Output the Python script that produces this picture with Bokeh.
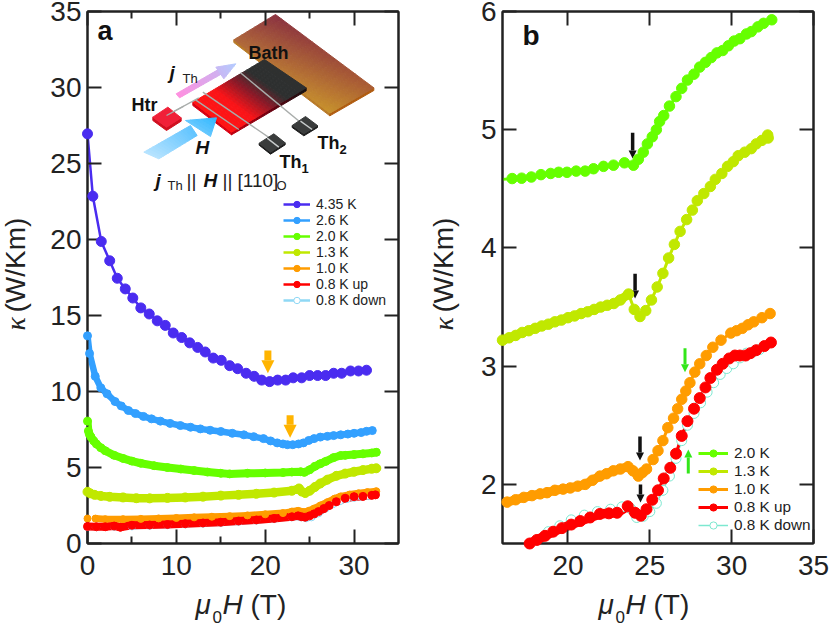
from bokeh.plotting import figure
from bokeh.layouts import row
from bokeh.models import (Range1d, LinearAxis, FixedTicker, Legend, LegendItem, Arrow, NormalHead)
from bokeh.core.properties import value
from bokeh.embed import file_html
from bokeh.resources import INLINE
import math

nan = float("nan")

# ---------- panel a data ----------
a_x_435 = [0,.6,1.55,2.5,3.35,4.25,5.1,6.0,6.95,7.85,8.75,9.65,10.6,11.5,12.4,13.25,14.15,15.05,16.0,16.9,17.85,18.75,19.6,20.5,21.4,22.3,23.15,24.1,25,25.9,26.8,27.7,28.6,29.6,30.5,31.4]
a_y_435 = [26.95,22.85,19.87,18.6,17.45,16.75,16.15,15.5,15.1,14.65,14.35,13.85,13.55,13.2,12.9,12.6,12.2,12.05,11.7,11.5,11.2,11.0,10.75,10.65,10.75,10.75,10.9,10.9,11.05,11.05,11.05,11.2,11.2,11.35,11.35,11.4]
a_x_26 = [0,.23,.87,1.5,2.2,3.1,3.8,4.6,5.4,6.3,7.2,8.2,9.3,10.45,11.6,12.7,13.8,15,16.3,17.6,18.7,19.8,20.6,21.35,22,22.5,23.1,23.75,24.3,24.9,25.5,26.2,27,27.7,28.5,29.3,30,30.8,31.4,32.05]
a_y_26 = [13.66,12.5,11.0,10.24,9.85,9.34,9.05,8.75,8.55,8.36,8.2,8.05,7.9,7.76,7.65,7.54,7.45,7.37,7.25,7.15,7.03,6.9,6.75,6.62,6.55,6.5,6.5,6.55,6.62,6.78,6.9,7.0,7.05,7.1,7.15,7.2,7.25,7.3,7.38,7.43]
a_x_20 = [0,.1,.2,.4,.7,1,1.5,2,3,4,5,6,7.5,9,10.5,12,13.5,15,16,18,20,22,23,24,24.4,25,25.6,26.2,26.8,27.7,28.5,29,30,31,32,32.5]
a_y_20 = [8.05,7.4,7.2,7.0,6.75,6.55,6.3,6.1,5.8,5.6,5.42,5.28,5.12,5.0,4.9,4.8,4.7,4.62,4.58,4.62,4.64,4.67,4.7,4.72,4.68,4.85,5.08,5.25,5.4,5.65,5.79,5.8,5.85,5.9,5.96,6.0]
a_x_13 = [0,.3,.8,1.5,2.5,4,5.5,7,9,11,13,15,17,19,21,23,23.8,24.1,24.5,25,25.6,26.2,27,28,29,30,31,32,32.5]
a_y_13 = [3.4,3.3,3.2,3.13,3.07,3.03,2.98,2.97,3.0,3.03,3.08,3.15,3.2,3.27,3.35,3.47,3.62,3.42,3.32,3.47,3.72,3.95,4.2,4.45,4.6,4.72,4.83,4.92,4.95]
a_x_10 = [0,nan,.9,2,4,6,8,10,12,14,16,18,20,22,23,23.7,24,24.4,24.9,25.5,26.2,27,27.8,28.5,29.5,30.5,31.5,32.5]
a_y_10 = [1.64,nan,1.64,1.6,1.6,1.62,1.65,1.68,1.72,1.76,1.8,1.85,1.92,2.0,2.1,2.15,2.1,2.07,2.15,2.3,2.5,2.72,2.95,3.1,3.22,3.3,3.38,3.44]
a_x_08u = [0,1,2,3,3.7,5,7,9,11,13,15,17,19,21,23,23.7,24.1,24.5,25,25.5,26,26.6,27.2,28,29,30,31,32,32.4]
a_y_08u = [1.12,1.1,1.1,1.15,1.07,1.2,1.22,1.25,1.3,1.35,1.4,1.48,1.55,1.65,1.76,1.82,1.76,1.73,1.82,1.95,2.1,2.3,2.5,2.75,2.98,3.08,3.1,3.17,3.2]
a_x_08d = [0,1,3,5,7,9,11,13,15,17,19,21,23,24,24.6,25.2,26,26.8,27.6,28.4,29.2,30,30.8,31.6]
a_y_08d = [1.08,1.07,1.1,1.12,1.16,1.2,1.25,1.3,1.35,1.42,1.5,1.6,1.72,1.72,1.66,1.72,1.98,2.3,2.58,2.78,2.92,3.0,3.08,3.12]

# ---------- panel b data ----------
b_x_20 = [16.59,17.17,17.76,18.35,18.94,19.43,19.94,20.5,21.05,21.56,22.17,22.78,23.45,24.0,24.3,24.6,24.85,25.15,25.4,25.6,25.85,26.2,26.6,26.95,27.3,27.7,28.05,28.4,28.75,29.1,29.45,29.8,30.15,30.5,30.9,31.2,31.6,31.95,32.45]
b_y_20 = [4.587,4.59,4.6,4.62,4.63,4.64,4.64,4.65,4.65,4.67,4.69,4.70,4.72,4.70,4.75,4.81,4.88,4.94,5.0,5.07,5.12,5.2,5.28,5.35,5.42,5.47,5.53,5.57,5.61,5.65,5.67,5.71,5.75,5.77,5.81,5.83,5.87,5.9,5.93]
b_x_13 = [16.0,16.4,16.8,17.2,17.6,18.0,18.4,18.8,19.2,19.6,20.0,20.4,20.8,21.2,21.6,22.0,22.4,22.8,23.2,23.7,24.05,24.4,24.75,25.1,25.45,25.8,26.15,26.5,26.85,27.25,27.6,27.9,28.3,28.7,29.0,29.4,29.75,30.1,30.4,30.8,31.2,31.5,31.85,32.2,32.23]
b_y_13 = [3.22,3.24,3.26,3.285,3.3,3.32,3.34,3.355,3.375,3.39,3.41,3.425,3.445,3.46,3.48,3.5,3.515,3.53,3.56,3.61,3.48,3.42,3.47,3.56,3.67,3.785,3.915,4.03,4.14,4.24,4.32,4.4,4.46,4.52,4.58,4.63,4.69,4.73,4.78,4.81,4.84,4.88,4.91,4.955,4.93]
b_x_10 = [16.28,16.8,17.3,17.8,18.3,18.72,19.2,19.7,20.14,20.6,21.05,21.5,21.95,22.35,22.77,23.2,23.67,23.97,24.3,24.55,24.8,25.2,25.5,25.8,26.1,26.45,26.7,26.95,27.2,27.45,27.75,28.05,28.45,28.85,29.35,29.95,30.3,30.65,31.0,31.35,31.85,32.35]
b_y_10 = [1.85,1.87,1.89,1.905,1.92,1.93,1.95,1.96,1.97,1.985,2.0,2.035,2.07,2.09,2.115,2.13,2.15,2.115,2.07,2.1,2.13,2.21,2.285,2.37,2.48,2.56,2.64,2.72,2.79,2.86,2.95,3.02,3.09,3.16,3.22,3.28,3.3,3.32,3.35,3.375,3.41,3.445]
b_x_08u = [17.66,18.1,18.6,19.1,19.63,20.2,20.75,21.35,21.95,22.5,23.0,23.65,24.1,24.45,24.8,25.15,25.5,25.85,26.25,26.6,26.95,27.3,27.7,28.05,28.4,28.7,29.1,29.45,29.85,30.2,30.5,30.85,31.15,31.5,32.0,32.4]
b_y_08u = [1.5,1.53,1.565,1.6,1.63,1.66,1.69,1.72,1.75,1.755,1.76,1.815,1.76,1.735,1.79,1.87,1.95,2.05,2.14,2.26,2.41,2.535,2.64,2.73,2.82,2.9,2.97,3.02,3.065,3.09,3.09,3.09,3.11,3.135,3.17,3.2]
b_x_08d = [18.8,19.5,20.2,21,21.8,22.6,23.3,23.8,24.2,24.6,25.0,25.4,25.8,26.2,26.6,26.95,27.3,27.7,28.1,28.5,28.9,29.3,29.7,30.1,30.5,30.9,31.3,31.7]
b_y_08d = [1.6,1.65,1.7,1.74,1.77,1.79,1.81,1.8,1.72,1.73,1.77,1.84,1.95,2.07,2.22,2.37,2.5,2.6,2.69,2.78,2.86,2.93,2.98,3.02,3.07,3.11,3.12,3.14]

temps_a = ["4.35 K", "2.6 K", "2.0 K", "1.3 K", "1.0 K", "0.8 K up", "0.8 K down"]
temps_b = ["2.0 K", "1.3 K", "1.0 K", "0.8 K up", "0.8 K down"]
x_ticks_a = [0, 10, 20, 30]
x_minor_a = [5, 15, 25]
y_ticks_a = [0, 5, 10, 15, 20, 25, 30, 35]
x_ticks_b = [20, 25, 30, 35]
y_ticks_b = [2, 3, 4, 5, 6]

C435, C26, C20, C13, C10, C08, C08D = "#4a2cf0", "#33a0ff", "#66ff00", "#c0e800", "#ff9c00", "#ff0000", "#8fd8f5"
INK = "#222222"
SANS = "Liberation Sans"

CANVAS_H = 626
F_TOP, F_BOTTOM = 11, 543


def make_fig(width, left, right, xr, yr, xt, yt, xm):
    p = figure(width=width, height=CANVAS_H, output_backend="svg", toolbar_location=None,
               x_range=Range1d(*xr), y_range=Range1d(*yr), x_axis_type=None, y_axis_type=None,
               min_border_left=left, min_border_right=right, min_border_top=F_TOP,
               min_border_bottom=CANVAS_H - F_BOTTOM, outline_line_color=INK, outline_line_width=2,
               background_fill_color="white", border_fill_color=None)
    p.grid.visible = False
    for side, ticks, minor, vis in (("below", xt, xm, True), ("above", xt, xm, False),
                                    ("left", yt, [], True), ("right", yt, [], False)):
        ax = LinearAxis(ticker=FixedTicker(ticks=ticks, minor_ticks=minor))
        ax.axis_line_color = INK
        ax.axis_line_width = 2
        ax.major_tick_line_color = INK
        ax.major_tick_line_width = 2
        ax.minor_tick_line_color = INK
        ax.minor_tick_line_width = 2
        ax.major_tick_in = 14
        ax.major_tick_out = 0
        ax.minor_tick_in = 7
        ax.minor_tick_out = 0
        if vis:
            ax.major_label_text_font = SANS
            ax.major_label_text_font_size = "28px"
            ax.major_label_text_color = INK
            ax.major_label_standoff = 12 if side == "below" else 6
        else:
            ax.major_label_text_font_size = "0px"
            ax.major_label_overrides = {t: "" for t in ticks}
            ax.major_label_standoff = 0
        p.add_layout(ax, side)
    return p


p1 = make_fig(425, 87, 27, (0, 35), (0, 35), x_ticks_a, y_ticks_a, x_minor_a)
p2 = make_fig(405, 77, 17, (16, 35), (1.5, 6), x_ticks_b, y_ticks_b, [])


def mapper(p, origin, fl, fr):
    x0, x1 = p.x_range.start, p.x_range.end
    y0, y1 = p.y_range.start, p.y_range.end
    def dx(px):
        return x0 + (px - origin - fl) / (fr - fl) * (x1 - x0)
    def dy(py):
        return y0 + (F_BOTTOM - py) / (F_BOTTOM - F_TOP) * (y1 - y0)
    return dx, dy


ax_, ay_ = mapper(p1, 0, 87, 398)
bx_, by_ = mapper(p2, 425, 77, 388)


def series(p, x, y, color, size, band=None, band_n=None, fill=None, lw=2.5, level="overlay"):
    if band:
        p.line(x[:band_n], y[:band_n], line_color=color, line_width=band, line_cap="round", line_join="round")
    l = p.line(x, y, line_color=color, line_width=lw, line_join="round")
    s = p.scatter(x, y, size=size, fill_color=fill or color, line_color=color, line_width=1, level=level)
    return l, s


def legend(p, rows, names, xy, font, h, gw):
    items = [LegendItem(label=n, renderers=list(r)) for n, r in zip(names, rows)]
    lg = Legend(items=items, location=xy, background_fill_alpha=0, border_line_color=None, padding=0,
                margin=0, spacing=0, label_text_font=SANS, label_text_font_size=font, label_text_color=INK,
                label_height=h, glyph_height=h, glyph_width=gw, label_standoff=6)
    p.add_layout(lg, "center")


def txt(p, fx, fy, px, py, s, size, style="normal", color=INK, font=SANS, angle=0):
    # px, py give the start of the text's baseline; the text is anchored on its middle
    if angle:
        px -= 0.33 * size
    else:
        py -= 0.33 * size
    p.text(x=[fx(px)], y=[fy(py)], text=[s], text_font=value(font), text_font_size=f"{size}px",
           text_font_style=style, text_color=color, angle=angle, text_baseline="middle",
           text_align="left", level="overlay")


# ---------- inset schematic ----------
def mix(c0, c1, t):
    a = [int(c0[i:i + 2], 16) for i in (1, 3, 5)]
    b = [int(c1[i:i + 2], 16) for i in (1, 3, 5)]
    return "#%02x%02x%02x" % tuple(round(a[i] + (b[i] - a[i]) * t) for i in range(3))


def Z(q):
    return (130 + q[0] / 3, 10 + q[1] / 3)


def poly(pts, color, line=None):
    pp = [Z(q) for q in pts]
    p1.patch([ax_(q[0]) for q in pp], [ay_(q[1]) for q in pp], fill_color=color, line_color=line or color, line_width=1)


def wire(a, b, color="#a9adab", w=1.4):
    pa, pb = Z(a), Z(b)
    p1.line([ax_(pa[0]), ax_(pb[0])], [ay_(pa[1]), ay_(pb[1])], line_color=color, line_width=w)


def lerp(a, b, t):
    return (a[0] + (b[0] - a[0]) * t, a[1] + (b[1] - a[1]) * t)


def grid_quad(A, B, C, D, cA, cB, cC, cD, n=16):
    for i in range(n):
        for j in range(n):
            u0, u1, v0, v1 = i / n, (i + 1) / n, j / n, (j + 1) / n
            pt = lambda u, v: lerp(lerp(A, B, u), lerp(D, C, u), v)
            col = mix(mix(cA, cB, (u0 + u1) / 2), mix(cD, cC, (u0 + u1) / 2), (v0 + v1) / 2)
            poly([pt(u0, v0), pt(u1, v0), pt(u1, v1), pt(u0, v1)], col)


def strip_quad(A, B, C, D, stops, n=24):
    # gradient along A->B / D->C
    for i in range(n):
        u0, u1 = i / n, (i + 1) / n
        u = (u0 + u1) / 2
        col = stops[-1][1]
        for (t0, c0), (t1, c1) in zip(stops, stops[1:]):
            if t0 <= u <= t1:
                col = mix(c0, c1, (u - t0) / (t1 - t0))
                break
        poly([lerp(A, B, u0), lerp(A, B, u1), lerp(D, C, u1), lerp(D, C, u0)], col)


# bath plate
poly([(310, 88), (310, 96), (598, 316), (598, 308)], "#b87a28")
poly([(598, 308), (598, 316), (730, 240), (730, 232)], "#b05c10")
grid_quad((310, 88), (435, 12), (730, 232), (598, 308), "#b0683a", "#8a3240", "#aa5c34", "#c8922c")

# sample
poly([(187, 275), (187, 285), (303, 373), (303, 365)], "#d80012")
strip_quad((303, 365), (527, 232), (527, 241), (303, 373), [(0, "#c40010"), (0.5, "#700010"), (1, "#111111")], 12)
strip_quad((187, 275), (402, 147), (527, 232), (303, 365),
           [(0, "#ff1414"), (0.3, "#fa1418"), (0.55, "#8a1a28"), (0.75, "#2e3030"), (1, "#2e3030")], 28)
wire((330, 187), (525, 348))
wire((217, 245), (440, 398))
wire((195, 268), (325, 357))
wire((108, 315), (205, 262))

# heater
poly([(67, 320), (67, 330), (108, 360), (152, 332), (152, 322), (108, 350)], "#d01020")
poly([(67, 320), (112, 290), (152, 322), (108, 350)], "#f02038")
wire((108, 315), (160, 287))

# thermometers
for pts in ([(386, 398), (430, 370), (464, 397), (420, 425)], [(485, 345), (525, 318), (561, 345), (520, 370)]):
    (a, b, c, d) = pts
    poly([a, (a[0], a[1] + 6), (d[0], d[1] + 6), (c[0], c[1] + 6), c, d], "#1c1c1c")
    poly(pts, "#3a3c3c")
wire((410, 383), (445, 410), "#c8cccc")
wire((510, 332), (545, 357), "#c8cccc")

# jTh arrow
strip_quad((137, 250), (262, 178), (272, 191), (147, 262), [(0, "#ff90e0"), (1, "#d0b0f0")], 16)
strip_quad((256, 170), (316, 160), (316, 160), (280, 205), [(0, "#c8b8f4"), (1, "#b4ccff")], 6)
# H arrow
strip_quad((40, 425), (180, 345), (200, 375), (85, 445), [(0, "#b8e4ff"), (1, "#60c4ff")], 16)
strip_quad((165, 330), (258, 322), (258, 322), (240, 378), [(0, "#66c8ff"), (1, "#30b8ff")], 6)

txt(p1, ax_, ay_, 97, 39, "a", 27, "bold", "#111111")
txt(p1, ax_, ay_, 248, 58, "Bath", 18, "bold", "#111111")
txt(p1, ax_, ay_, 131, 110, "Htr", 18, "bold", "#111111")
txt(p1, ax_, ay_, 169, 78, "j", 19, "bold italic", "#111111")
txt(p1, ax_, ay_, 182, 82, "Th", 13)
txt(p1, ax_, ay_, 195, 153, "H", 19, "bold italic", "#111111")
txt(p1, ax_, ay_, 279, 167, "Th", 18, "bold", "#111111")
txt(p1, ax_, ay_, 301, 172, "1", 13, "bold", "#111111")
txt(p1, ax_, ay_, 317, 148, "Th", 18, "bold", "#111111")
txt(p1, ax_, ay_, 339, 153, "2", 13, "bold", "#111111")
txt(p1, ax_, ay_, 155, 186, "j", 19, "bold italic", "#111111")
txt(p1, ax_, ay_, 167, 189, "Th", 13)
txt(p1, ax_, ay_, 186, 186, "||", 19)
txt(p1, ax_, ay_, 203, 186, "H", 19, "bold italic", "#111111")
txt(p1, ax_, ay_, 222, 186, "||", 19)
txt(p1, ax_, ay_, 237, 186, "[110]", 19)
txt(p1, ax_, ay_, 276, 189, "O", 13)

# ---------- panel a curves ----------
rd = series(p1, a_x_08d, a_y_08d, C08D, 7, band=6, fill="#ffffff")
r435 = series(p1, a_x_435, a_y_435, C435, 10)
r26 = series(p1, a_x_26, a_y_26, C26, 8, band=6.5)
r20 = series(p1, a_x_20, a_y_20, C20, 8, band=8)
r13 = series(p1, a_x_13, a_y_13, C13, 9, band=8.5)
r10 = series(p1, a_x_10, a_y_10, C10, 7, band=7)
r08 = series(p1, a_x_08u, a_y_08u, C08, 8, band=8)
legend(p1, [r435, r26, r20, r13, r10, r08, rd], temps_a, (196, 235), "14px", 16, 27)

for xv, y0, y1 in ((20.3, 350, 372.7), (22.8, 414.7, 437.3)):
    p1.add_layout(Arrow(end=NormalHead(size=13, fill_color="#ffb400", line_color="#ffb400", line_width=0),
                        x_start=xv, y_start=ay_(y0), x_end=xv, y_end=ay_(y1),
                        line_color="#ffb400", line_width=7))

# ---------- panel b curves ----------
# the thin stub of the 2.0 K line reaching the left frame edge
p2.line([16.0, b_x_20[0]], [4.58, b_y_20[0]], line_color=C20, line_width=3)
d = series(p2, b_x_08d, b_y_08d, "#7de8d0", 10, fill="#ffffff", lw=1.5)
g = series(p2, b_x_20, b_y_20, C20, 10.5, lw=3)
y13 = series(p2, b_x_13, b_y_13, C13, 10.5, band=9, band_n=20, lw=3)
o = series(p2, b_x_10, b_y_10, C10, 10.5, band=9, band_n=21, lw=3)
r = series(p2, b_x_08u, b_y_08u, C08, 11, band=9.5, band_n=14, lw=3)
legend(p2, [g, y13, o, r, d], temps_b, (196, 9), "15.3px", 18, 30)

for xv, y0, y1, col, hs, lw in ((23.95, 132.3, 158, "#111111", 8, 3.5), (24.1, 273.3, 298, "#111111", 8, 3.5),
                                (24.4, 436, 460, "#111111", 8, 3.5), (24.43, 484, 502, "#111111", 8, 3.5),
                                (27.15, 347.7, 371.7, "#33e61a", 8, 3), (27.35, 473, 449, "#33e61a", 8, 3)):
    p2.add_layout(Arrow(end=NormalHead(size=hs, fill_color=col, line_color=col, line_width=0),
                        x_start=xv, y_start=by_(y0), x_end=xv, y_end=by_(y1), line_color=col, line_width=lw))

txt(p2, bx_, by_, 522, 44, "b", 28, "bold", "#111111")

# ---------- axis titles ----------
for p, fx, fy, off in ((p1, ax_, ay_, 0), (p2, bx_, by_, 403)):
    txt(p, fx, fy, 195 + off, 613, "\u03bc", 28, "italic")
    txt(p, fx, fy, 212 + off, 622, "0", 17)
    txt(p, fx, fy, 222 + off, 613, "H", 28, "italic")
    txt(p, fx, fy, 250 + off, 613, "(T)", 28)
for p, fx, fy, bx in ((p1, ax_, ay_, 24), (p2, bx_, by_, 452)):
    txt(p, fx, fy, bx, 330, "\u03ba", 28, "italic", font="Liberation Serif", angle=math.pi / 2)
    txt(p, fx, fy, bx, 312, "(W/Km)", 28, angle=math.pi / 2)

layout = row(p1, p2, spacing=0)
open("out.html", "w").write(file_html(layout, INLINE))
